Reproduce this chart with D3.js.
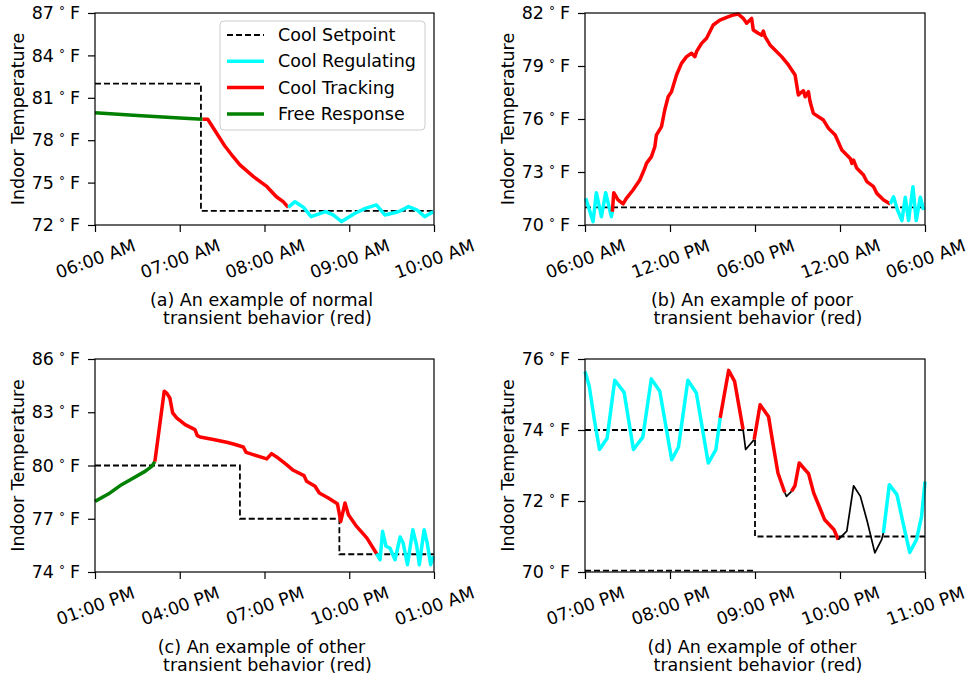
<!DOCTYPE html>
<html lang="en">
<head>
<meta charset="utf-8">
<style>
  body { margin: 0; background: #fff; }
  svg { font-family: "DejaVu Sans", sans-serif; font-size: 17.5px; }
  .frame { fill: none; stroke: #000; stroke-width: 1.2; }
  .setpoint { fill: none; stroke: #000; stroke-width: 1.8; stroke-dasharray: 6,3; }
  .series { fill: none; stroke-linejoin: round; stroke-linecap: butt; }
  .tick line { stroke: #000; stroke-width: 1.2; }
  .tick text { fill: #000; font-size: 17.5px; font-family: "DejaVu Sans", sans-serif; }
</style>
</head>
<body>
<svg width="967" height="679"></svg>
<script src="https://d3js.org/d3.v7.min.js"></script>
<script>
// times are hours since midnight of the first day, values are °F

// (a) normal transient
var xTicksA = [6, 7, 8, 9, 10];
var yTicksA = [72, 75, 78, 81, 84, 87];
var setpointA = [[6, 82], [7.25, 73], [10, 73]];
var freeA = [[6.00, 79.95], [6.50, 79.75], [7.00, 79.57], [7.27, 79.48]];
var trackA = [[7.27, 79.48], [7.33, 79.48], [7.53, 77.61], [7.63, 76.83], [7.71, 76.25], [7.87, 75.42],
  [8.03, 74.71], [8.14, 74.00], [8.22, 73.65], [8.28, 73.25]];
var regA = [[8.28, 73.25], [8.36, 73.65], [8.46, 73.25], [8.55, 72.59], [8.72, 72.94], [8.81, 72.71],
  [8.91, 72.24], [9.07, 72.83], [9.19, 73.18], [9.32, 73.42], [9.42, 72.71], [9.58, 72.94],
  [9.70, 73.30], [9.80, 73.06], [9.89, 72.59], [9.99, 72.94]];

// (b) poor transient
var xTicksB = [6, 12, 18, 24, 30];
var yTicksB = [70, 73, 76, 79, 82];
var setpointB = [[6, 71], [30, 71]];
var regB1 = [[6.05, 71.51], [6.57, 70.19], [6.80, 71.83], [7.16, 70.47], [7.46, 71.83], [7.86, 70.47], [7.93, 70.75]];
var trackB = [[7.93, 70.75], [8.03, 71.83], [8.33, 71.42], [8.69, 71.19], [8.92, 71.51], [9.39, 71.98],
  [9.87, 72.55], [10.22, 73.21], [10.34, 73.49], [10.69, 73.87], [10.93, 74.43], [11.04, 75.09],
  [11.40, 75.57], [11.63, 76.51], [11.87, 77.26], [12.11, 77.55], [12.46, 78.49], [12.81, 79.15],
  [13.17, 79.53], [13.52, 79.72], [13.76, 79.53], [13.87, 79.81], [14.23, 80.28], [14.58, 80.57],
  [15.05, 81.32], [15.52, 81.60], [16.00, 81.75], [16.47, 81.89], [16.82, 81.94], [17.17, 81.70],
  [17.41, 81.42], [17.65, 81.60], [17.76, 81.70], [17.88, 81.04], [18.23, 80.85], [18.47, 80.75],
  [18.59, 80.98], [18.71, 80.66], [19.06, 80.19], [19.41, 79.91], [19.88, 79.53], [20.36, 79.06],
  [20.83, 78.49], [21.06, 77.36], [21.18, 77.45], [21.42, 77.60], [21.54, 77.26], [21.77, 77.55],
  [21.89, 76.98], [22.12, 76.32], [22.48, 76.13], [22.83, 75.94], [23.19, 75.47], [23.66, 75.09],
  [24.13, 74.25], [24.72, 73.77], [24.84, 73.49], [24.95, 73.68], [25.19, 73.21], [25.66, 72.83],
  [25.90, 72.45], [26.37, 72.17], [26.60, 71.79], [27.08, 71.42], [27.55, 71.19]];
var regB2 = [[27.55, 71.19], [27.78, 71.60], [28.06, 70.85], [28.37, 70.25], [28.61, 71.57], [28.84, 70.25],
  [29.15, 72.17], [29.38, 70.25], [29.67, 71.57], [29.90, 70.85]];

// (c) other transient
var xTicksC = [13, 16, 19, 22, 25];
var yTicksC = [74, 77, 80, 83, 86];
var setpointC = [[13, 80], [18.13, 77], [21.65, 75], [25, 75]];
var freeC = [[13.00, 77.98], [13.47, 78.39], [13.94, 78.92], [14.36, 79.30], [14.77, 79.67], [15.01, 79.95], [15.12, 80.23]];
var trackC = [[15.12, 80.23], [15.45, 84.18], [15.54, 84.08], [15.65, 83.80], [15.75, 82.96], [15.89, 82.68],
  [16.19, 82.30], [16.54, 82.02], [16.62, 81.68], [16.72, 81.61], [17.19, 81.46], [17.66, 81.31],
  [17.90, 81.21], [18.25, 81.04], [18.35, 80.74], [18.60, 80.61], [19.08, 80.37], [19.25, 80.67],
  [19.43, 80.48], [19.78, 80.05], [20.02, 79.73], [20.40, 79.43], [20.49, 79.11], [20.79, 78.83],
  [20.94, 78.45], [21.26, 78.17], [21.58, 77.85], [21.70, 76.85], [21.85, 77.89], [21.97, 77.23],
  [22.26, 76.57], [22.62, 75.92], [22.97, 75.03]];
var regC = [[22.97, 75.03], [23.09, 74.69], [23.18, 76.29], [23.30, 75.45], [23.44, 75.35], [23.62, 74.69],
  [23.80, 75.97], [23.91, 75.63], [24.06, 74.41], [24.25, 76.38], [24.39, 75.45], [24.48, 74.41],
  [24.65, 76.38], [24.76, 75.63], [24.88, 74.41], [24.98, 74.88]];

// (d) other transient
var xTicksD = [19, 20, 21, 22, 23];
var yTicksD = [70, 72, 74, 76];
var setpointD = [[19, 74], [21, 71], [23, 71]];
var lowSetpointD = [[19, 70.04], [21, 70.04]];
var regD1 = [[19.00, 75.65], [19.05, 75.23], [19.11, 74.29], [19.17, 73.45], [19.26, 73.77], [19.35, 75.40],
  [19.46, 75.06], [19.57, 73.45], [19.68, 73.80], [19.78, 75.44], [19.88, 75.09], [20.02, 73.16],
  [20.10, 73.52], [20.21, 75.40], [20.31, 75.04], [20.45, 73.07], [20.54, 73.45], [20.59, 74.34]];
var trackD1 = [[20.59, 74.34], [20.69, 75.68], [20.76, 75.37], [20.86, 74.01]];
var idleD1 = [[20.86, 74.01], [20.89, 73.45], [20.99, 73.73]];
var trackD2 = [[20.99, 73.73], [21.06, 74.71], [21.16, 74.37], [21.22, 73.49], [21.27, 72.79], [21.35, 72.24]];
var idleD2 = [[21.35, 72.24], [21.37, 72.13], [21.43, 72.27]];
var trackD3 = [[21.43, 72.27], [21.47, 72.43], [21.52, 73.07], [21.63, 72.77], [21.69, 72.23], [21.77, 71.76],
  [21.82, 71.47], [21.93, 71.19], [21.98, 70.91]];
var idleD3 = [[21.98, 70.91], [22.08, 71.15], [22.16, 72.43], [22.24, 72.13], [22.32, 71.43], [22.41, 70.54],
  [22.49, 70.91], [22.51, 71.10]];
var regD2 = [[22.51, 71.10], [22.58, 72.46], [22.67, 72.18], [22.75, 71.29], [22.82, 70.55], [22.90, 70.91],
  [22.96, 71.57], [23.00, 72.55]];

var legendLabels = ["Cool Setpoint", "Cool Regulating", "Cool Tracking", "Free Response"];
var legendKinds = ["setpoint", "regulating", "tracking", "free"];

var colors = { regulating: "#00ffff", tracking: "#ff0000", free: "#008000", idle: "#000000" };
var widths = { regulating: 3.5, tracking: 3.5, free: 3.5, idle: 1.7 };

var svg = d3.select("svg");
var day0 = new Date(2018, 6, 2);
function toDate(h) { return new Date(day0.getTime() + h * 3600000); }
var fmtTime = d3.timeFormat("%I:%M %p");

var panels = [
  { left: 95, top: 13, width: 339, height: 212, xTicks: xTicksA, yTicks: yTicksA,
    setpoints: [setpointA],
    lines: [[freeA, "free"], [trackA, "tracking"], [regA, "regulating"]],
    caption: ["(a) An example of normal", "transient behavior (red)"], legend: true },
  { left: 585, top: 13, width: 340, height: 212, xTicks: xTicksB, yTicks: yTicksB,
    setpoints: [setpointB],
    lines: [[regB1, "regulating"], [trackB, "tracking"], [regB2, "regulating"]],
    caption: ["(b) An example of poor", "transient behavior (red)"] },
  { left: 95, top: 359, width: 339, height: 213, xTicks: xTicksC, yTicks: yTicksC,
    setpoints: [setpointC],
    lines: [[freeC, "free"], [trackC, "tracking"], [regC, "regulating"]],
    caption: ["(c) An example of other", "transient behavior (red)"] },
  { left: 585, top: 359, width: 340, height: 213, xTicks: xTicksD, yTicks: yTicksD,
    setpoints: [setpointD, lowSetpointD],
    lines: [[regD1, "regulating"], [trackD1, "tracking"], [idleD1, "idle"], [trackD2, "tracking"],
      [idleD2, "idle"], [trackD3, "tracking"], [idleD3, "idle"], [regD2, "regulating"]],
    caption: ["(d) An example of other", "transient behavior (red)"] }
];

panels.forEach(drawPanel);

function drawPanel(p) {
  var x = d3.scaleTime()
    .domain([toDate(p.xTicks[0]), toDate(p.xTicks[p.xTicks.length - 1])])
    .range([0, p.width]);
  var y = d3.scaleLinear()
    .domain([p.yTicks[0], p.yTicks[p.yTicks.length - 1]])
    .range([p.height, 0]);

  var g = svg.append("g").attr("transform", "translate(" + p.left + "," + p.top + ")");

  var line = d3.line()
    .x(function(d) { return x(toDate(d[0])); })
    .y(function(d) { return y(d[1]); });
  var stepLine = d3.line()
    .x(function(d) { return x(toDate(d[0])); })
    .y(function(d) { return y(d[1]); })
    .curve(d3.curveStepAfter);

  p.setpoints.forEach(function(s) {
    g.append("path").datum(s).attr("class", "setpoint").attr("d", stepLine);
  });

  p.lines.forEach(function(l) {
    g.append("path").datum(l[0])
      .attr("class", "series")
      .attr("stroke", colors[l[1]])
      .attr("stroke-width", widths[l[1]])
      .attr("d", line);
  });

  g.append("rect").attr("class", "frame")
    .attr("width", p.width).attr("height", p.height);

  // x axis
  var xa = g.append("g")
    .attr("transform", "translate(0," + p.height + ")")
    .call(d3.axisBottom(x).tickValues(p.xTicks.map(toDate)).tickFormat(fmtTime)
      .tickSizeInner(7).tickSizeOuter(0));
  xa.select(".domain").remove();
  xa.selectAll(".tick text")
    .attr("y", null).attr("dy", null)
    .attr("text-anchor", "middle")
    .attr("dominant-baseline", "central")
    .attr("transform", "translate(0,34) rotate(-20)");

  // y axis, labels like "87 ° F"
  var ya = g.append("g")
    .call(d3.axisLeft(y).tickValues(p.yTicks).tickSizeInner(7).tickSizeOuter(0).tickPadding(8));
  ya.select(".domain").remove();
  ya.selectAll(".tick text").each(function(d) {
    var t = d3.select(this).text("");
    t.append("tspan").text(d);
    t.append("tspan").attr("dx", 5).attr("dy", -4).attr("font-size", 12).text("°");
    t.append("tspan").attr("dx", 5).attr("dy", 4).text("F");
  });

  g.append("text")
    .attr("transform", "translate(-77," + (p.height / 2) + ") rotate(-90)")
    .attr("text-anchor", "middle")
    .attr("dominant-baseline", "central")
    .text("Indoor Temperature");

  g.append("text").attr("x", p.width / 2 - 3).attr("y", p.height + 81)
    .attr("text-anchor", "middle").text(p.caption[0]);
  g.append("text").attr("x", p.width / 2 + 3).attr("y", p.height + 99)
    .attr("text-anchor", "middle").text(p.caption[1]);

  if (p.legend) {
    var lg = g.append("g").attr("transform", "translate(125,8)");
    lg.append("rect")
      .attr("width", 205).attr("height", 109).attr("rx", 4)
      .attr("fill", "#fff").attr("fill-opacity", 0.8)
      .attr("stroke", "#cccccc").attr("stroke-width", 1);
    legendLabels.forEach(function(label, i) {
      var kind = legendKinds[i];
      var ry = 14 + i * 26.3;
      var sample = lg.append("line")
        .attr("x1", 7).attr("x2", 44).attr("y1", ry).attr("y2", ry);
      if (kind === "setpoint") {
        sample.attr("class", "setpoint");
      } else {
        sample.attr("stroke", colors[kind]).attr("stroke-width", widths[kind]);
      }
      lg.append("text").attr("x", 58).attr("y", ry)
        .attr("dominant-baseline", "central").text(label);
    });
  }
}
</script>
</body>
</html>
